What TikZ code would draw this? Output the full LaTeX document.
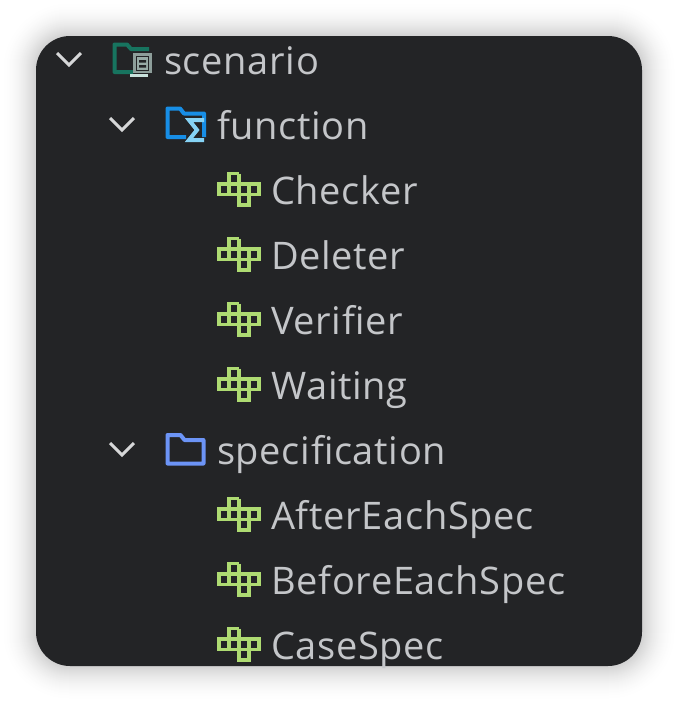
\documentclass[tikz,border=0pt]{standalone}
\usepackage{fontspec}
\setmainfont[LetterSpace=1.8]{Open Sans}
\definecolor{panelgray}{HTML}{232426}
\definecolor{labelgray}{HTML}{C4C6C9}
\definecolor{classgreen}{HTML}{AEDB72}
\definecolor{chevrongray}{HTML}{D6D7D8}
\definecolor{scenariogreen}{HTML}{17745F}
\definecolor{scenariodoc}{HTML}{C9E2DC}
\definecolor{functionblue}{HTML}{178EE6}
\definecolor{sigmablue}{HTML}{86D3F5}
\definecolor{specblue}{HTML}{6C94F6}
\tikzset{
	rowlabel/.style={anchor=base west, inner sep=0pt, text=labelgray, font=\fontsize{38}{38}\selectfont},
	chevron/.style={draw=chevrongray, line width=3pt},
	folderline/.style={line width=4pt, line join=round},
	classicon/.pic={
		\draw[classgreen, line width=3.7pt]
			(0,0) rectangle (40,10.5)
			(10,0) -- (10,10.5) (20,-10.5) -- (20,10.5) (30,0) -- (30,10.5)
			(10,0) -- (10,-10.5) -- (20,-10.5)
			(20,10.5) -- (20,21) -- (30,21) -- (30,10.5);
	},
	folderpic/.pic={
		\draw[folderline, pic actions]
			(1,7) -- (1,1) -- (14,1) -- (18,6) -- (37,6) -- (37,29.5) -- (1,29.5) -- cycle;
	}
}
\newcommand{\chevronat}[2]{\draw[chevron] (#1-12,#2-6) -- (#1,#2+6) -- (#1+12,#2-6);}
\begin{document}
\begin{tikzpicture}[x=1pt,y=-1pt]
	\useasboundingbox (0,0) rectangle (678,702);
	\fill[white] (0,0) rectangle (678,702);
	% soft shadow round the panel, outermost ring first
	\foreach \g in {36,35,...,1}{
		\pgfmathsetmacro{\shade}{18*(1-\g/36)^2}
		\fill[black!\shade!white, rounded corners=34pt+\g pt]
			(36-\g,36-\g) rectangle (642+\g,666+\g);
	}
	\fill[panelgray, rounded corners=34pt] (36,36) rectangle (642,666);

	\chevronat{69}{59}
	\chevronat{122}{124}
	\chevronat{122}{449}

	% scenario folder
	\draw[scenariogreen, folderline]
		(149,49) -- (131,49) -- (127,44.5) -- (114.5,44.5) -- (114.5,72) -- (133,72);
	\fill[scenariodoc!70!black] (133,53) rectangle (152,73);
	\fill[panelgray] (136,56) rectangle (149,71);
	\fill[scenariodoc!75!black] (137,57) rectangle (148,70);
	\fill[panelgray] (139,60) rectangle (146,62.5) (139,65) rectangle (146,67.5);
	\fill[scenariodoc] (130,74) rectangle (148,77);

	% function folder
	\draw[functionblue, folderline]
		(186,137) -- (167.5,137) -- (167.5,108.5) -- (180,108.5) -- (184,113.5) -- (204,113.5) -- (204,137);
	\draw[sigmablue, line width=4pt]
		(204,120) -- (189,120) -- (197,130) -- (189,140) -- (204,140);

	% specification folder
	\pic[specblue] at (166.5,434) {folderpic};

	\foreach \row in {191,256,321,386,516,581,646}{
		\pic at (219,\row-7) {classicon};
	}

	\node[rowlabel] (scenario) at (164,74) {scenario};
	\node[rowlabel] (function) at (217,139) {function};
	\node[rowlabel] (checker) at (271,204) {Checker};
	\node[rowlabel] (deleter) at (271,269) {Deleter};
	\node[rowlabel] (verifier) at (271,334) {Verifier};
	\node[rowlabel] (waiting) at (271,399) {Waiting};
	\node[rowlabel] (specification) at (217,464) {specification};
	\node[rowlabel] (aftereach) at (271,529) {AfterEachSpec};
	\node[rowlabel] (beforeeach) at (271,594) {BeforeEachSpec};
	\node[rowlabel] (casespec) at (271,659) {CaseSpec};
\end{tikzpicture}
\end{document}
